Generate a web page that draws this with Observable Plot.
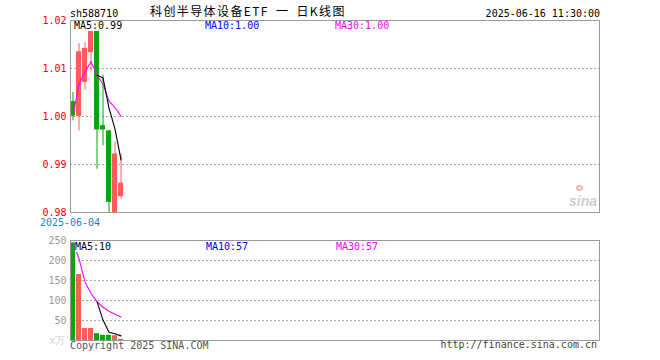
<!DOCTYPE html>
<html><head><meta charset="utf-8">
<script src="https://cdn.jsdelivr.net/npm/d3@7"></script>
<script src="https://cdn.jsdelivr.net/npm/@observablehq/plot@0.6"></script>
<style>
body{margin:0;background:#fff;}
#wrap{position:relative;width:660px;height:360px;overflow:hidden;background:#fff;font-family:"DejaVu Sans Mono",monospace;font-size:10px;}
.abs{position:absolute;white-space:pre;line-height:10px;}
.chart{position:absolute;left:0;}
</style></head><body><div id="wrap"></div>
<script>
// ---- data ----
const code = "sh588710";
const title = "科创半导体设备ETF 一 日K线图";
const stamp = "2025-06-16 11:30:00";
const dates = ["2025-06-04","2025-06-05","2025-06-06","2025-06-09","2025-06-10","2025-06-11","2025-06-12","2025-06-13","2025-06-16"];
const open  = [1.0031, 1.0000, 1.0071, 1.0133, 1.0195, 0.9981, 0.9970, 0.9800, 0.9833];
const high  = [1.0050, 1.0152, 1.0154, 1.0188, 1.0200, 1.0086, 0.9971, 0.9947, 0.9922];
const low   = [0.9991, 0.9970, 1.0055, 1.0094, 0.9890, 0.9939, 0.9800, 0.9800, 0.9828];
const close = [1.0001, 1.0135, 1.0142, 1.0181, 0.9972, 0.9972, 0.9821, 0.9922, 0.9861];
const volume = [244, 165, 30, 30, 17, 13, 13, 12, 3];
const priceTicks = [0.98, 0.99, 1.00, 1.01, 1.02];
const volTicks = [50, 100, 150, 200, 250];
const volUnit = "x万";
const priceMaLabels = ["MA5:0.99", "MA10:1.00", "MA30:1.00"];
const volMaLabels = ["MA5:10", "MA10:57", "MA30:57"];
const copyright = "Copyright 2025 SINA.COM";
const site = "http://finance.sina.com.cn";

// ---- styles ----
const RED = "#ff5b5b", GREEN = "#0aa50a";
const maColors = ["#000000", "#0000ff", "#ff00ff"];
const FONT = "DejaVu Sans Mono";
const xDomain = [-0.42, 87.75];

const rows = dates.map((d, i) => ({i, date: d, open: open[i], high: high[i], low: low[i], close: close[i], vol: volume[i], up: close[i] >= open[i]}));
function movingAvg(arr, n) {
  const out = [];
  for (let i = 0; i < arr.length; i++) {
    if (i + 1 >= n) out.push({i, v: d3.mean(arr.slice(i + 1 - n, i + 1))});
  }
  return out;
}
function cumAvg(arr, n) {
  return arr.map((_, i) => ({i, v: d3.mean(arr.slice(Math.max(0, i + 1 - n), i + 1))}));
}
// MA10 coincides with MA30 (fewer than 10 sessions), so only MA30 is visible
const pMA5 = movingAvg(close, 5), pMA30 = cumAvg(close, 30);
const vMA5 = movingAvg(volume, 5), vMA30 = cumAvg(volume, 30);

const wrap = document.getElementById("wrap");

const price = Plot.plot({
  width: 660, height: 230,
  marginLeft: 70, marginRight: 61, marginTop: 20, marginBottom: 18,
  style: {fontFamily: FONT, fontSize: "10px", background: "transparent"},
  x: {domain: xDomain, axis: null},
  y: {domain: [0.98, 1.02], axis: null},
  marks: [
    Plot.ruleY(priceTicks.slice(1, -1), {stroke: "#aaa", strokeDasharray: "2,2"}),
    Plot.ruleX(rows, {x: "i", y1: "low", y2: "high", stroke: d => d.up ? RED : GREEN}),
    Plot.rect(rows, {x1: d => d.i - 0.42, x2: d => d.i + 0.42, y1: "open", y2: "close", fill: d => d.up ? RED : GREEN}),
    Plot.line(pMA30, {x: "i", y: "v", stroke: maColors[2], strokeWidth: 1.1}),
    Plot.line(pMA5, {x: "i", y: "v", stroke: maColors[0], strokeWidth: 1.1}),
    Plot.frame({stroke: "#999"}),
    Plot.axisY({ticks: priceTicks, tickFormat: d => d.toFixed(2), tickSize: 0, tickPadding: 4, color: "#ee0000", label: null}),
    Plot.axisX({ticks: [0], tickFormat: i => dates[i], tickSize: 0, tickPadding: 6, color: "#1a7fd4", label: null, dx: -3})
  ]
});
price.classList.add("chart");
price.style.top = "0px";
wrap.appendChild(price);

const vol = Plot.plot({
  width: 660, height: 130,
  marginLeft: 70, marginRight: 61, marginTop: 10, marginBottom: 20,
  style: {fontFamily: FONT, fontSize: "10px", background: "transparent"},
  x: {domain: xDomain, axis: null},
  y: {domain: [0, 250], axis: null},
  marks: [
    Plot.ruleY(volTicks.slice(0, -1), {stroke: "#aaa", strokeDasharray: "2,2"}),
    Plot.rect(rows, {x1: d => d.i - 0.42, x2: d => d.i + 0.42, y1: 0, y2: "vol", fill: d => d.up ? RED : GREEN}),
    Plot.line(vMA30, {x: "i", y: "v", stroke: maColors[2], strokeWidth: 1.1}),
    Plot.line(vMA5, {x: "i", y: "v", stroke: maColors[0], strokeWidth: 1.1}),
    Plot.frame({stroke: "#999"}),
    Plot.axisY({ticks: volTicks, tickFormat: d => String(d), tickSize: 0, tickPadding: 4, color: "#999", label: null}),
    Plot.axisY({ticks: [0], tickFormat: () => volUnit, tickSize: 0, tickPadding: 5, color: "#ccc", label: null})
  ]
});
vol.classList.add("chart");
vol.style.top = "230px";
wrap.appendChild(vol);

function addText(txt, css) {
  const s = document.createElement("div");
  s.className = "abs";
  s.textContent = txt;
  Object.assign(s.style, css);
  wrap.appendChild(s);
  return s;
}
// header
addText(code, {left: "70px", top: "8.5px", color: "#000"});
addText(stamp, {right: "60px", top: "8.5px", color: "#000"});
addText(title, {left: "150px", top: "5px", fontFamily: "'Noto Sans CJK SC'", fontSize: "12px", lineHeight: "12px", letterSpacing: "1.4px", wordSpacing: "3px", color: "#000"});
// MA labels
const maX = [74, 205, 335];
priceMaLabels.forEach((t, k) => addText(t, {left: maX[k] + "px", top: "21px", color: maColors[k], background: "#fff"}));
volMaLabels.forEach((t, k) => addText(t, {left: (maX[k] + 1) + "px", top: "241.5px", color: maColors[k], background: "#fff"}));
// footer
addText(copyright, {left: "70px", top: "340.5px", color: "#555"});
addText(site, {right: "63px", top: "339.5px", color: "#444"});
// watermark
addText("sina", {left: "569px", top: "194px", fontFamily: "'Liberation Sans'", fontStyle: "italic", fontWeight: "bold", fontSize: "14px", lineHeight: "14px", color: "#cfcfcf"});
const eye = document.createElement("div");
Object.assign(eye.style, {position: "absolute", left: "576px", top: "185px", width: "7px", height: "6px", borderRadius: "50%", border: "2px solid #f4b4b4", boxSizing: "border-box"});
wrap.appendChild(eye);
</script></body></html>
